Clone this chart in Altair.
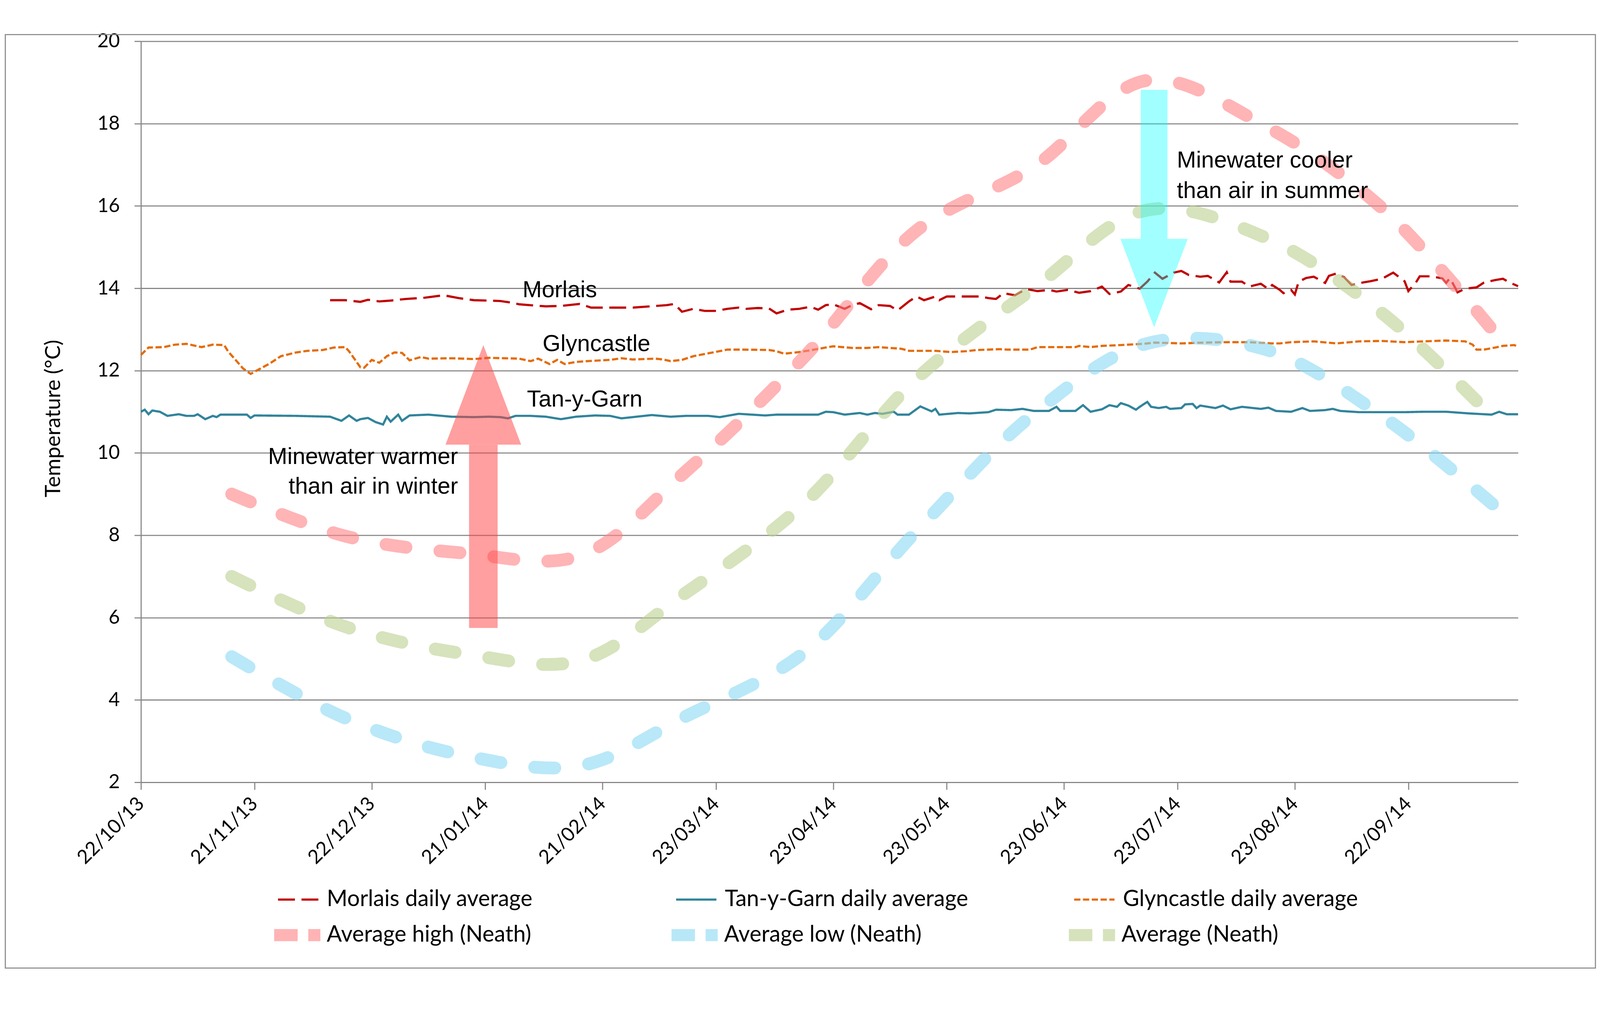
import altair as alt
import pandas as pd

START = pd.Timestamp("2013-10-22")

THIN_SERIES = ["Morlais daily average", "Tan-y-Garn daily average", "Glyncastle daily average"]
THIN_COLORS = ["#C00000", "#31849B", "#E46C0A"]
THIN_DASHES = [[46, 18], [1, 0], [17, 7]]
THICK_SERIES = ["Average high (Neath)", "Average low (Neath)", "Average (Neath)"]
THICK_COLORS = ["#FF8285", "#8AD9F3", "#BBD08F"]

# ---- daily averages (day offset from 22/10/13, temperature) ----
TANY_DAY = [0, 1, 2, 3, 5, 7, 10, 12, 14, 15, 17, 19, 20, 21, 28, 29, 30, 41, 50, 53, 55, 57, 58, 60,
            62, 64, 65, 66, 68, 69, 71, 76, 82, 88, 92, 95, 97, 99, 103, 107, 111, 115, 120, 124, 127,
            131, 135, 140, 144, 150, 153, 158, 165, 168, 174, 179, 181, 183, 186, 190, 192, 194, 196,
            199, 200, 203, 206, 209, 210, 211, 216, 219, 224, 226, 230, 233, 236, 240, 242, 243, 247,
            249, 251, 254, 256, 258, 259, 261, 263, 264, 266, 267, 269, 271, 272, 275, 276, 278, 279,
            280, 284, 286, 288, 291, 296, 298, 300, 304, 307, 309, 313, 315, 317, 322, 328, 334, 339,
            345, 348, 351, 357, 359, 361, 364]
TANY_TEMP = [11.00, 11.05, 10.94, 11.03, 11.00, 10.90, 10.94, 10.90, 10.90, 10.94, 10.82, 10.90, 10.87,
             10.93, 10.93, 10.85, 10.91, 10.90, 10.88, 10.78, 10.91, 10.78, 10.82, 10.85, 10.75, 10.69,
             10.88, 10.76, 10.93, 10.78, 10.91, 10.93, 10.88, 10.87, 10.88, 10.87, 10.84, 10.90, 10.90,
             10.88, 10.82, 10.88, 10.91, 10.90, 10.84, 10.88, 10.92, 10.88, 10.90, 10.90, 10.87, 10.95,
             10.91, 10.93, 10.93, 10.93, 11.00, 10.99, 10.93, 10.97, 10.93, 10.97, 10.95, 11.00, 10.93,
             10.93, 11.13, 11.01, 11.07, 10.93, 10.97, 10.96, 10.99, 11.05, 11.04, 11.07, 11.02, 11.02,
             11.12, 11.02, 11.02, 11.16, 11.00, 11.06, 11.16, 11.12, 11.21, 11.15, 11.05, 11.12, 11.24,
             11.12, 11.09, 11.12, 11.07, 11.09, 11.18, 11.19, 11.09, 11.15, 11.09, 11.15, 11.06, 11.12,
             11.07, 11.10, 11.02, 11.00, 11.09, 11.02, 11.04, 11.07, 11.02, 10.99, 10.99, 10.99, 11.00,
             11.00, 10.98, 10.96, 10.93, 11.00, 10.94, 10.94]

GLYN_DAY = [0, 2, 6, 9, 12, 16, 19, 22, 23, 25, 27, 29, 31, 34, 37, 41, 44, 48, 51, 54, 55, 58, 59, 61,
            63, 65, 67, 69, 71, 74, 76, 82, 88, 92, 100, 103, 105, 108, 110, 112, 115, 118, 124, 127,
            130, 136, 138, 140, 143, 146, 150, 155, 159, 166, 168, 170, 174, 178, 181, 183, 188, 192,
            195, 198, 201, 203, 207, 210, 214, 218, 221, 224, 227, 229, 235, 237, 242, 247, 248, 251,
            254, 259, 265, 268, 275, 281, 287, 293, 299, 301, 304, 310, 316, 322, 328, 334, 339, 345,
            350, 352, 353, 355, 358, 360, 363, 364]
GLYN_TEMP = [12.38, 12.56, 12.57, 12.63, 12.65, 12.57, 12.63, 12.62, 12.47, 12.26, 12.05, 11.92, 12.02,
             12.17, 12.35, 12.44, 12.48, 12.50, 12.56, 12.57, 12.47, 12.08, 12.07, 12.26, 12.19, 12.35,
             12.44, 12.43, 12.25, 12.33, 12.29, 12.30, 12.28, 12.31, 12.29, 12.23, 12.29, 12.16, 12.26,
             12.16, 12.21, 12.23, 12.26, 12.30, 12.27, 12.29, 12.27, 12.23, 12.26, 12.35, 12.42, 12.51,
             12.51, 12.50, 12.47, 12.41, 12.45, 12.51, 12.56, 12.59, 12.55, 12.55, 12.57, 12.55, 12.53,
             12.48, 12.48, 12.48, 12.45, 12.47, 12.50, 12.51, 12.52, 12.51, 12.51, 12.57, 12.57, 12.57,
             12.60, 12.57, 12.60, 12.62, 12.65, 12.68, 12.66, 12.68, 12.69, 12.69, 12.66, 12.66, 12.69,
             12.71, 12.66, 12.71, 12.72, 12.69, 12.71, 12.73, 12.71, 12.63, 12.51, 12.51, 12.56, 12.60,
             12.62, 12.58]

MORL_DAY = [50, 54, 56, 58, 60, 63, 66, 70, 75, 80, 84, 88, 92, 95, 98, 100, 104, 107, 111, 113, 116,
            119, 122, 130, 136, 139, 141, 143, 146, 149, 152, 155, 158, 160, 163, 166, 168, 171, 174,
            177, 179, 181, 183, 186, 188, 190, 193, 195, 198, 200, 203, 205, 207, 210, 211, 213, 216,
            219, 222, 224, 226, 228, 231, 234, 237, 240, 242, 245, 248, 251, 254, 256, 259, 261, 264,
            266, 268, 270, 273, 275, 277, 280, 282, 285, 287, 288, 291, 293, 296, 298, 299, 301, 302,
            304, 305, 306, 308, 310, 313, 314, 316, 318, 320, 323, 325, 328, 331, 334, 335, 337, 338,
            341, 344, 345, 346, 348, 350, 353, 355, 358, 360, 362, 364]
MORL_TEMP = [13.71, 13.71, 13.69, 13.67, 13.72, 13.68, 13.70, 13.74, 13.77, 13.83, 13.76, 13.71, 13.70,
             13.69, 13.65, 13.61, 13.58, 13.56, 13.57, 13.59, 13.62, 13.53, 13.53, 13.53, 13.57, 13.59,
             13.62, 13.43, 13.50, 13.45, 13.45, 13.50, 13.53, 13.50, 13.52, 13.51, 13.39, 13.48, 13.50,
             13.55, 13.48, 13.59, 13.61, 13.50, 13.59, 13.64, 13.49, 13.59, 13.57, 13.46, 13.68, 13.80,
             13.71, 13.80, 13.71, 13.80, 13.80, 13.80, 13.80, 13.76, 13.74, 13.88, 13.83, 13.98, 13.93,
             13.96, 13.92, 13.96, 13.89, 13.93, 14.04, 13.86, 13.92, 14.08, 13.99, 14.16, 14.38, 14.23,
             14.38, 14.42, 14.32, 14.28, 14.30, 14.14, 14.39, 14.16, 14.16, 14.04, 14.11, 13.98, 14.08,
             13.96, 13.88, 13.96, 13.85, 14.16, 14.25, 14.28, 14.13, 14.30, 14.36, 14.27, 14.08, 14.14,
             14.17, 14.23, 14.38, 14.17, 13.93, 14.14, 14.29, 14.29, 14.24, 14.13, 14.25, 13.90, 13.99,
             14.02, 14.14, 14.20, 14.23, 14.13, 14.05]

# ---- Neath monthly climate averages (plotted mid-month) ----
NEATH_DATES = ["2013-11-15", "2013-12-15", "2014-01-15", "2014-02-15", "2014-03-15", "2014-04-15",
               "2014-05-15", "2014-06-15", "2014-07-15", "2014-08-15", "2014-09-15", "2014-10-15"]
NEATH_HIGH = [9.0, 7.98, 7.57, 7.5, 9.55, 12.3, 15.4, 16.95, 19.05, 17.95, 15.95, 12.9]
NEATH_LOW = [5.05, 3.56, 2.66, 2.4, 3.6, 5.13, 8.1, 10.95, 12.66, 12.52, 10.9, 8.7]
NEATH_AVG = [7.0, 5.78, 5.13, 4.95, 6.6, 8.75, 11.8, 14.0, 15.9, 15.24, 13.4, 10.8]

# ---- arrows (day offsets, temperatures) ----
WARM_SHAFT = {"day": 90.5, "from": 5.75, "to": 10.2}
WARM_HEAD = {"day": [80.5, 90.5, 100.5], "top": [10.2, 12.62, 10.2], "base": 10.2}
COOL_SHAFT = {"day": 267.8, "from": 18.82, "to": 15.2}
COOL_HEAD = {"day": [258.9, 267.8, 276.7], "top": [15.2, 13.05, 15.2], "base": 15.2}

# ---- annotations ----
LABELS_CENTER = ["Morlais", "Glyncastle", "Tan-y-Garn"]
LABELS_CENTER_DAY = [110.7, 120.4, 117.3]
LABELS_CENTER_T = [13.78, 12.47, 11.13]
LABELS_RIGHT = ["Minewater warmer", "than air in winter"]
LABELS_RIGHT_DAY = [83.8, 83.8]
LABELS_RIGHT_T = [9.73, 9.01]
LABELS_LEFT = ["Minewater cooler", "than air in summer"]
LABELS_LEFT_DAY = [273.8, 273.8]
LABELS_LEFT_T = [16.93, 16.19]

TICK_DATES = [(2013, 10, 22), (2013, 11, 21), (2013, 12, 22), (2014, 1, 21), (2014, 2, 21),
              (2014, 3, 23), (2014, 4, 23), (2014, 5, 23), (2014, 6, 23), (2014, 7, 23),
              (2014, 8, 23), (2014, 9, 22)]
Y_TICKS = list(range(2, 21, 2))


def iso(days):
    return [(START + pd.Timedelta(days=float(d))).strftime("%Y-%m-%dT%H:%M:%S") for d in days]


thin = pd.concat([
    pd.DataFrame({"series": THIN_SERIES[0], "date": iso(MORL_DAY), "temp": MORL_TEMP}),
    pd.DataFrame({"series": THIN_SERIES[1], "date": iso(TANY_DAY), "temp": TANY_TEMP}),
    pd.DataFrame({"series": THIN_SERIES[2], "date": iso(GLYN_DAY), "temp": GLYN_TEMP}),
], ignore_index=True)

nd = [d + "T00:00:00" for d in NEATH_DATES]
thick = pd.concat([
    pd.DataFrame({"series": THICK_SERIES[0], "date": nd, "temp": NEATH_HIGH}),
    pd.DataFrame({"series": THICK_SERIES[1], "date": nd, "temp": NEATH_LOW}),
    pd.DataFrame({"series": THICK_SERIES[2], "date": nd, "temp": NEATH_AVG}),
], ignore_index=True)

GRID = "#868686"
W, H = 3757, 2022
PAD_TOP = 20

xscale = alt.Scale(domain=[alt.DateTime(year=2013, month=10, date=22),
                           alt.DateTime(year=2014, month=10, date=21)])
yscale = alt.Scale(domain=[2, 20], nice=False, zero=False)

xaxis = alt.Axis(values=[alt.DateTime(year=y, month=m, date=d) for (y, m, d) in TICK_DATES],
                 format="%d/%m/%y", title=None, grid=False, labelAngle=315, labelAlign="right",
                 labelBaseline="middle", labelFont="Lato", labelFontSize=53, labelColor="black",
                 labelPadding=30, labelLimit=600, tickSize=20, tickColor=GRID, tickWidth=3,
                 domainColor=GRID, domainWidth=3, labelOverlap=False, labelFlush=False)
yaxis = alt.Axis(values=Y_TICKS, title="Temperature (°C)", titleFont="Lato", titleFontSize=58,
                 titleFontWeight="normal", titleColor="black", titleAngle=270, titleX=-238,
                 titleY=1029, titleBaseline="middle", titleAlign="center",
                 labelFont="Lato", labelFontSize=53, labelColor="black", labelPadding=40,
                 tickSize=18, tickColor=GRID, tickWidth=3, domainColor=GRID, domainWidth=3,
                 grid=True, gridColor=GRID, gridWidth=3)

thin_legend = alt.Legend(title=None, orient="none", legendX=371, legendY=2284, direction="horizontal",
                         columns=3, gridAlign="all", columnPadding=275, symbolType="stroke",
                         symbolSize=12100, symbolStrokeWidth=6, labelFont="Lato", labelFontSize=61,
                         labelColor="black", labelOffset=20, labelLimit=2000, padding=0)
thick_legend = alt.Legend(title=None, orient="none", legendX=347, legendY=2359, direction="horizontal",
                          columns=3, gridAlign="all", columnPadding=316, symbolType="stroke",
                          symbolSize=16129, symbolStrokeWidth=33, symbolDash=[64, 29, 33, 200],
                          symbolOpacity=0.6, labelFont="Lato", labelFontSize=61, labelColor="black",
                          labelOffset=0, labelLimit=2000, padding=0)

X = alt.X("date:T", scale=xscale, axis=xaxis)
Y = alt.Y("temp:Q", scale=yscale, axis=yaxis)

thin_layer = alt.Chart(thin).mark_line(strokeCap="butt", strokeWidth=6).encode(
    x=X, y=Y,
    color=alt.Color("series:N", scale=alt.Scale(domain=THIN_SERIES, range=THIN_COLORS),
                    legend=thin_legend),
    strokeDash=alt.StrokeDash("series:N", scale=alt.Scale(domain=THIN_SERIES, range=THIN_DASHES),
                              legend=thin_legend),
)
thick_layer = alt.Chart(thick).mark_line(strokeCap="round", interpolate="catmull-rom", strokeWidth=35,
                                         strokeDash=[55, 93], strokeOpacity=0.6).encode(
    x=X, y=Y,
    color=alt.Color("series:N", scale=alt.Scale(domain=THICK_SERIES, range=THICK_COLORS),
                    legend=thick_legend),
)


def shaft_df(s):
    return pd.DataFrame({"date": iso([s["day"]]), "temp": [s["from"]], "temp2": [s["to"]]})


def head_df(h):
    return pd.DataFrame({"date": iso(h["day"]), "temp": h["top"], "temp2": [h["base"]] * 3})


warm_shaft = alt.Chart(shaft_df(WARM_SHAFT)).mark_rule(strokeWidth=78, color="#FF4040", opacity=0.5,
                                                      strokeCap="butt").encode(x=X, y=Y, y2="temp2:Q")
warm_head = alt.Chart(head_df(WARM_HEAD)).mark_area(color="#FF4040", opacity=0.5).encode(
    x=X, y=Y, y2="temp2:Q")
cool_shaft = alt.Chart(shaft_df(COOL_SHAFT)).mark_rule(strokeWidth=73, color="#00FFFF", opacity=0.37,
                                                      strokeCap="butt").encode(x=X, y=Y, y2="temp2:Q")
cool_head = alt.Chart(head_df(COOL_HEAD)).mark_area(color="#00FFFF", opacity=0.37).encode(
    x=X, y=Y, y2="temp2:Q")


def text_layer(labels, days, temps, align):
    df = pd.DataFrame({"label": labels, "date": iso(days), "temp": temps})
    return alt.Chart(df).mark_text(font="Liberation Sans", fontSize=63, align=align,
                                   baseline="alphabetic", color="black").encode(x=X, y=Y, text="label:N")


texts = [text_layer(LABELS_CENTER, LABELS_CENTER_DAY, LABELS_CENTER_T, "center"),
         text_layer(LABELS_RIGHT, LABELS_RIGHT_DAY, LABELS_RIGHT_T, "right"),
         text_layer(LABELS_LEFT, LABELS_LEFT_DAY, LABELS_LEFT_T, "left")]

# outer chart frame (decoration)
frame = alt.Chart(alt.Data(values=[{"f": 1}])).mark_rect(fill="white", fillOpacity=0, stroke="#8C8C8C",
                                                        strokeWidth=3).encode(
    x=alt.value(-370), x2=alt.value(3968), y=alt.value(-(PAD_TOP - 2)), y2=alt.value(2529))

chart = alt.layer(frame, thin_layer, thick_layer, warm_shaft, warm_head, cool_shaft, cool_head,
                  *texts).resolve_scale(color="independent", strokeDash="independent").properties(
    width=W, height=H,
    autosize=alt.AutoSizeParams(type="none"),
    padding={"left": 376, "top": PAD_TOP, "right": 215, "bottom": 515},
    background="white",
).configure_view(stroke=None)

chart.save("out.html", embed_options={"renderer": "svg", "actions": False})
